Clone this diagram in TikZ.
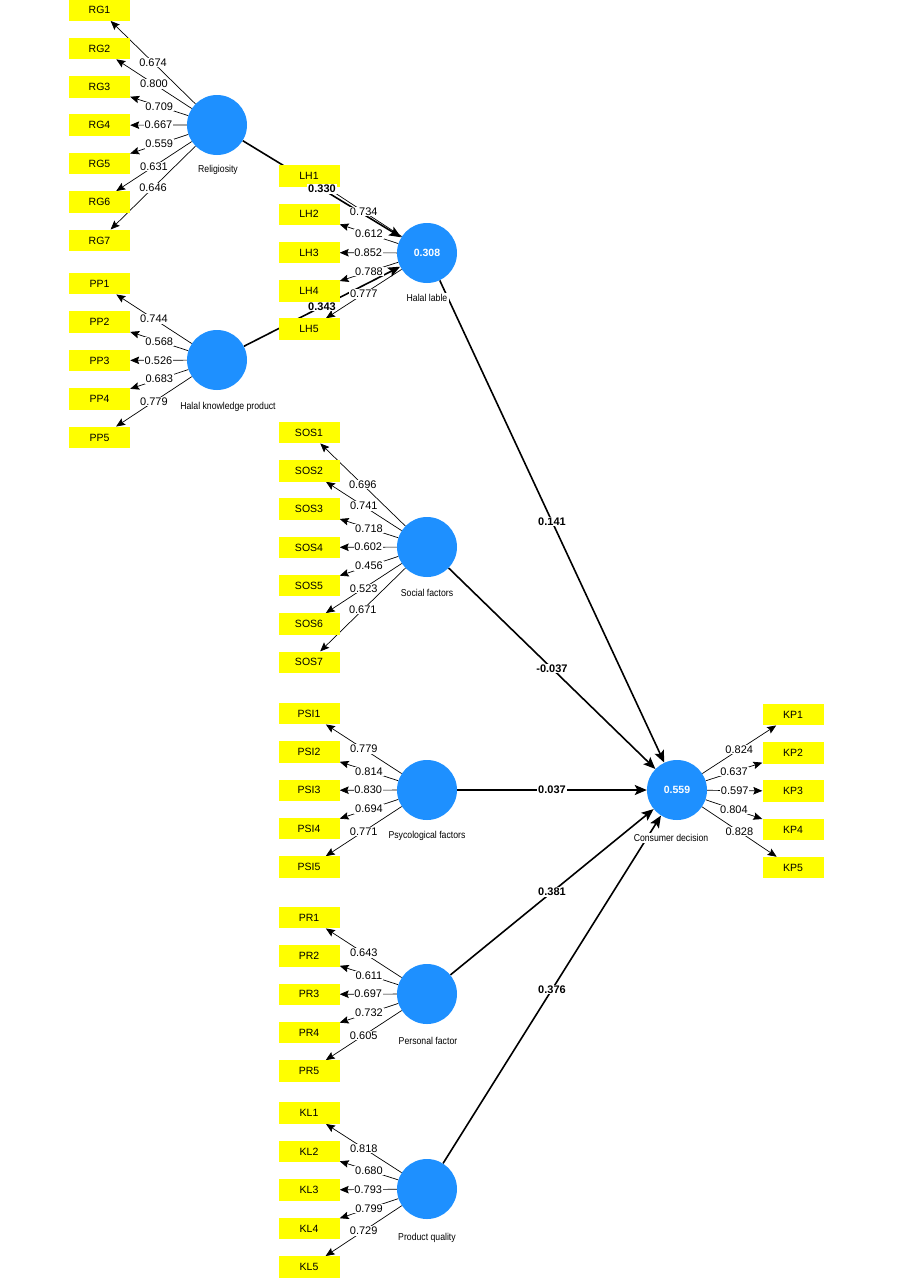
\documentclass[tikz,border=0pt]{standalone}
\usepackage{fontspec}
\setmainfont{Liberation Sans}
\newfontfamily\narrowfont[FakeStretch=0.87]{Liberation Sans}
\usetikzlibrary{arrows.meta}
\definecolor{latblue}{RGB}{30,144,255}
\definecolor{indyellow}{RGB}{255,255,0}
\pgfdeclarelayer{bg}
\pgfdeclarelayer{canvas}
\pgfsetlayers{canvas,bg,main}
\begin{document}
\begin{tikzpicture}[x=1pt,y=-1pt,
  ind/.style={fill=indyellow, minimum width=61pt, minimum height=21.5pt, inner sep=0pt, font=\fontsize{10.5}{12}\selectfont},
  lat/.style={circle, fill=latblue, minimum size=60pt, inner sep=0pt, text=white, font=\bfseries\fontsize{10.5}{12}\selectfont},
  latname/.style={font=\narrowfont\fontsize{10}{12}\selectfont, fill=white, inner sep=1.5pt},
  ol/.style={line width=0.7pt, -{Stealth[length=9pt,width=7.5pt,inset=1.5pt]}},
  sp/.style={line width=1.6pt, -{Stealth[length=12pt,width=10pt,inset=2.5pt]}},
  lbl/.style={fill=white, inner sep=0.8pt, font=\fontsize{11}{12}\selectfont},
  slbl/.style={fill=white, inner sep=0.8pt, font=\bfseries\fontsize{11}{12}\selectfont}
]
\begin{pgfonlayer}{canvas}
\fill[white] (0,0) rectangle (905,1280);
\end{pgfonlayer}
\useasboundingbox (0,0) rectangle (905,1280);

% latent variables
\node[lat] (rg)  at (217,125)  {};
\node[lat] (hkp) at (217,360)  {};
\node[lat] (hl)  at (427,253)  {0.308};
\node[lat] (sf)  at (427,547)  {};
\node[lat] (psy) at (427,790)  {};
\node[lat] (per) at (427,994)  {};
\node[lat] (pq)  at (427,1189) {};
\node[lat] (cd)  at (677,790)  {0.559};

\node[latname] (rgn)  at (218,170)  {Religiosity};
\node[latname] (hkpn) at (228,407)  {Halal knowledge product};
\node[latname] (hln)  at (427,298)  {Halal lable};
\node[latname] (sfn)  at (427,593)  {Social factors};
\node[latname] (psyn) at (427,836)  {Psycological factors};
\node[latname] (pern) at (428,1041) {Personal factor};
\node[latname] (pqn)  at (427,1238) {Product quality};
\node[latname] (cdn)  at (671,838)  {Consumer decision};

% indicators
\foreach \i in {1,...,7} \node[ind] (RG\i) at (99.5,{10+(\i-1)*38.4}) {RG\i};
\foreach \i in {1,...,5} \node[ind] (PP\i) at (99.5,{283.5+(\i-1)*38.5}) {PP\i};
\foreach \i in {1,...,5} \node[ind] (LH\i) at (309,{176+(\i-1)*38.3}) {LH\i};
\foreach \i in {1,...,7} \node[ind] (SOS\i) at (309,{432.5+(\i-1)*38.3}) {SOS\i};
\foreach \i in {1,...,5} \node[ind] (PSI\i) at (309,{713.5+(\i-1)*38.4}) {PSI\i};
\foreach \i in {1,...,5} \node[ind] (PR\i) at (309,{917.5+(\i-1)*38.4}) {PR\i};
\foreach \i in {1,...,5} \node[ind] (KL\i) at (309,{1113+(\i-1)*38.5}) {KL\i};
\foreach \i in {1,...,5} \node[ind] (KP\i) at (793,{714.5+(\i-1)*38.3}) {KP\i};

% outer loadings
\foreach \l/\p/\i/\v in {
  rg/RG/1/0.674, rg/RG/2/0.800, rg/RG/3/0.709, rg/RG/4/0.667, rg/RG/5/0.559, rg/RG/6/0.631, rg/RG/7/0.646,
  hkp/PP/1/0.744, hkp/PP/2/0.568, hkp/PP/3/0.526, hkp/PP/4/0.683, hkp/PP/5/0.779,
  hl/LH/1/0.734, hl/LH/2/0.612, hl/LH/3/0.852, hl/LH/4/0.788, hl/LH/5/0.777,
  sf/SOS/1/0.696, sf/SOS/2/0.741, sf/SOS/3/0.718, sf/SOS/4/0.602, sf/SOS/5/0.456, sf/SOS/6/0.523, sf/SOS/7/0.671,
  psy/PSI/1/0.779, psy/PSI/2/0.814, psy/PSI/3/0.830, psy/PSI/4/0.694, psy/PSI/5/0.771,
  per/PR/1/0.643, per/PR/2/0.611, per/PR/3/0.697, per/PR/4/0.732, per/PR/5/0.605,
  pq/KL/1/0.818, pq/KL/2/0.680, pq/KL/3/0.793, pq/KL/4/0.799, pq/KL/5/0.729,
  cd/KP/1/0.824, cd/KP/2/0.637, cd/KP/3/0.597, cd/KP/4/0.804, cd/KP/5/0.828}{
  \begin{pgfonlayer}{bg}\draw[ol] (\l) -- (\p\i);\end{pgfonlayer}
  \path (\l) -- node[lbl]{\v} (\p\i);
}

% structural paths
\foreach \a/\b/\v in {rg/hl/0.330, hkp/hl/0.343, hl/cd/0.141, sf/cd/-0.037, psy/cd/0.037, per/cd/0.381, pq/cd/0.376}{
  \begin{pgfonlayer}{bg}\draw[sp] (\a) -- (\b);\end{pgfonlayer}
  \path (\a) -- node[slbl]{\v} (\b);
}
\end{tikzpicture}
\end{document}
